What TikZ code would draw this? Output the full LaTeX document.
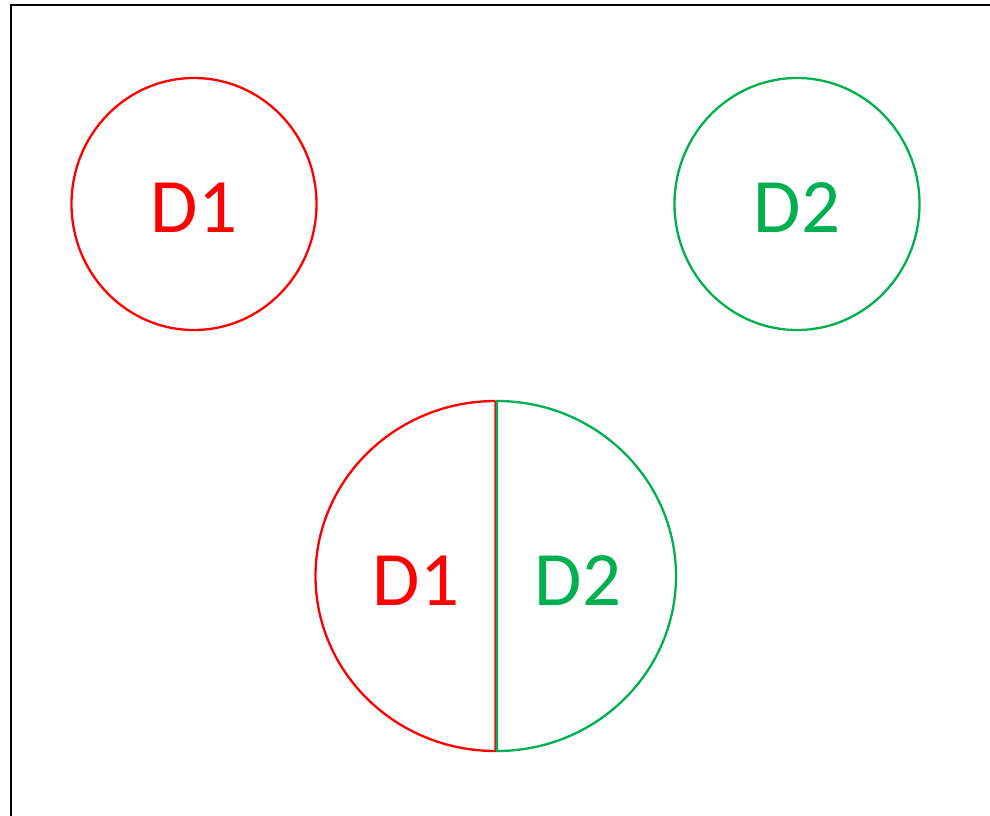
\documentclass[tikz,border=0pt]{standalone}
\usepackage{fontspec}
\setmainfont{Carlito}
\usetikzlibrary{shapes.geometric}
\definecolor{dgreen}{RGB}{0,176,80}
\definecolor{dred}{RGB}{255,0,0}

\begin{document}
\begin{tikzpicture}[
  x=1pt, y=-1pt,
  disc/.style={ellipse, draw, line width=2.3pt, minimum width=245pt, minimum height=252pt, inner sep=0pt},
  half/.style={line width=2.3pt},
  tag/.style={font=\fontsize{77}{77}\selectfont, inner sep=0pt},
]
\useasboundingbox (0,0) rectangle (990,815);

% === frame ===
\draw[line width=2pt] (10.5,820) |- (995,4.5);

% === the two separate discs ===
\node[disc, dred] (d1) at (194,204) {};
\node[disc, dgreen] (d2) at (797,204) {};
\node[tag, text=dred] (t1) at (194,208) {D1};
\node[tag, text=dgreen] (t2) at (797,208) {D2};

% === split disc ===
\coordinate (top) at (495.5,401);
\coordinate (bot) at (497,751);
\draw[half, dred] (top) arc[start angle=270, end angle=90, x radius=180, y radius=175] -- (top);
\draw[half, dgreen] (497,401) arc[start angle=-90, end angle=90, x radius=179, y radius=175] -- cycle;

\node[tag, text=dred] (h1) at (416,581) {D1};
\node[tag, text=dgreen] (h2) at (578,581) {D2};

\end{tikzpicture}
\end{document}
